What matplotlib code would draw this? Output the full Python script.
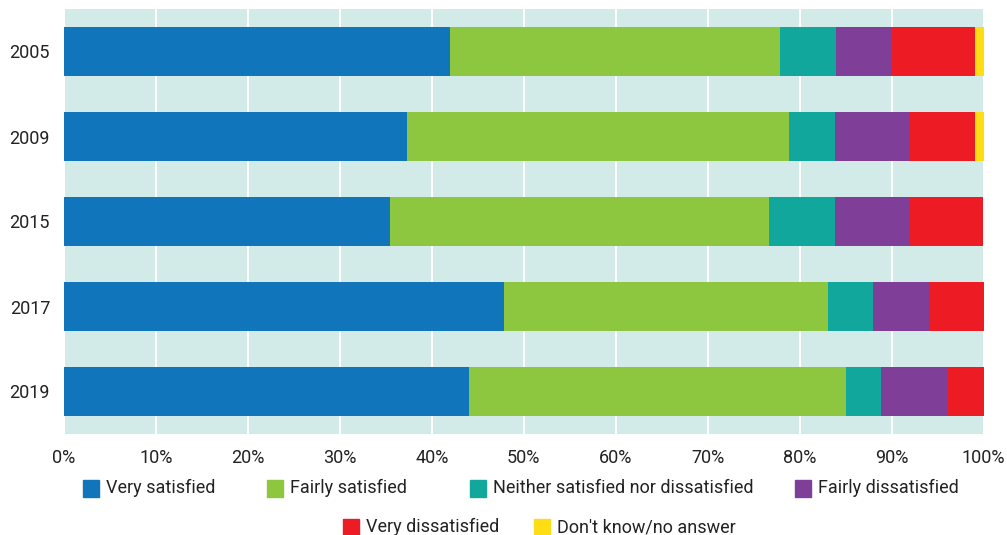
import matplotlib.pyplot as plt
from matplotlib.patches import Rectangle

# data (percent)
years = ['2005', '2009', '2015', '2017', '2019']
very_satisfied = [42.0, 37.3, 35.4, 47.9, 44.0]
fairly_satisfied = [35.9, 41.6, 41.3, 35.2, 41.1]
neither = [6.1, 4.9, 7.1, 4.9, 3.8]
fairly_dissatisfied = [6.0, 8.1, 8.1, 6.1, 7.2]
very_dissatisfied = [9.1, 7.2, 8.1, 5.9, 3.9]
dont_know = [0.9, 0.9, 0.0, 0.0, 0.0]

labels = ['Very satisfied', 'Fairly satisfied', 'Neither satisfied nor dissatisfied',
          'Fairly dissatisfied', 'Very dissatisfied', "Don't know/no answer"]
colors = ['#1175bc', '#8dc63f', '#12a79d', '#7f3f98', '#ed1c24', '#ffdd15']
series = [very_satisfied, fairly_satisfied, neither, fairly_dissatisfied,
          very_dissatisfied, dont_know]

plt.rcParams['font.family'] = ['Roboto', 'DejaVu Sans']

W, H = 1007, 535
fig = plt.figure(figsize=(W / 100, H / 100), dpi=100)
ax = fig.add_axes([64 / W, 1 - 434 / H, 919.5 / W, 425 / H])
ax.set_facecolor('#d2ebe8')

ypos = list(range(len(years)))
left = [0.0] * len(years)
for vals, col, lab in zip(series, colors, labels):
    ax.barh(ypos, vals, left=left, height=0.565, color=col, label=lab, zorder=3)
    left = [l + v for l, v in zip(left, vals)]

ax.set_xlim(0, 100)
ax.set_ylim(4.5, -0.5)
ax.set_yticks(ypos)
ax.set_yticklabels(years, fontsize=13, color='#222222')
ax.set_xticks(range(0, 101, 10))
ax.set_xticklabels([f'{t}%' for t in range(0, 101, 10)], fontsize=13, color='#222222')
ax.tick_params(length=0)
ax.tick_params(axis='x', pad=11)
ax.tick_params(axis='y', pad=10)
ax.grid(axis='x', color='white', linewidth=1.5, zorder=1)
for s in ax.spines.values():
    s.set_visible(False)

# legend, laid out in two centred rows like the reference
legend_pos = [(83, 488), (267, 488), (470, 488), (795, 488), (343, 527), (534, 527)]
for (px, py), col, lab in zip(legend_pos, colors, labels):
    fig.patches.append(Rectangle((px / W, 1 - (py + 8.5) / H), 16 / W, 17 / H,
                                 color=col, transform=fig.transFigure))
    fig.text((px + 23) / W, 1 - py / H, lab, fontsize=13, color='#222222',
             va='center', ha='left')

fig.savefig('out.png', dpi=100)
